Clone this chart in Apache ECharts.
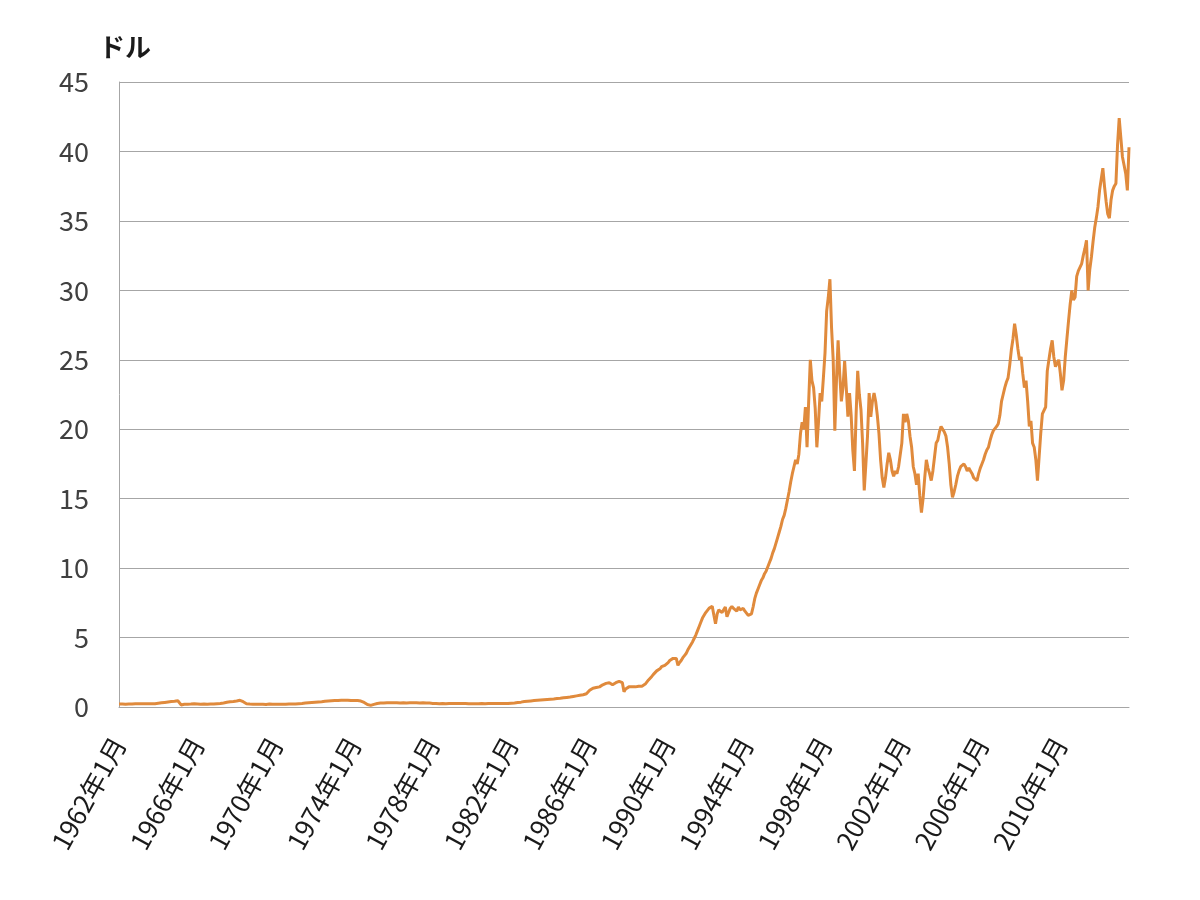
<!DOCTYPE html>
<html>
<head>
<meta charset="utf-8">
<script src="https://cdn.jsdelivr.net/npm/echarts@6/dist/echarts.min.js"></script>
<style>
html, body { margin: 0; padding: 0; background: #fff; }
#chart { width: 1200px; height: 900px; }
</style>
</head>
<body>
<div id="chart"></div>
<script>
// monthly price, 1962-01 .. 2013-07 (one row = one year)
let prices1962 = [
    0.22,0.23,0.22,0.21,0.20,0.21,0.22,0.22,0.21,0.22,0.23,0.23, // 1962
    0.23,0.24,0.23,0.22,0.23,0.24,0.24,0.23,0.24,0.25,0.24,0.25,
    0.27,0.29,0.30,0.32,0.33,0.35,0.36,0.37,0.39,0.40,0.41,0.43,
    0.45,0.40,0.15,0.18,0.20,0.21,0.20,0.22,0.21,0.22,0.23,0.22, // 1965
    0.21,0.20,0.19,0.20,0.21,0.20,0.19,0.20,0.21,0.22,0.21,0.22,
    0.23,0.24,0.25,0.27,0.29,0.31,0.34,0.36,0.38,0.39,0.40,0.42,
    0.43,0.46,0.48,0.50,0.38,0.27,0.24,0.22,0.21,0.20,0.19,0.20, // 1968
    0.19,0.18,0.20,0.21,0.20,0.19,0.18,0.20,0.21,0.20,0.19,0.20,
    0.19,0.18,0.19,0.20,0.19,0.18,0.19,0.20,0.21,0.20,0.21,0.22, // 1970
    0.21,0.22,0.23,0.24,0.25,0.27,0.28,0.29,0.30,0.31,0.32,0.33,
    0.34,0.35,0.36,0.37,0.38,0.40,0.41,0.42,0.43,0.44,0.45,0.46,
    0.47,0.48,0.47,0.49,0.48,0.47,0.48,0.49,0.48,0.47,0.46,0.47,
    0.46,0.45,0.46,0.44,0.43,0.40,0.33,0.25,0.18,0.13,0.12,0.15, // 1974
    0.19,0.22,0.25,0.27,0.28,0.30,0.29,0.30,0.31,0.30,0.31,0.30,
    0.31,0.30,0.31,0.30,0.29,0.30,0.31,0.30,0.29,0.30,0.30,0.29,
    0.30,0.29,0.30,0.29,0.28,0.29,0.30,0.29,0.28,0.27,0.28,0.27,
    0.26,0.25,0.26,0.25,0.24,0.25,0.26,0.25,0.24,0.25,0.26,0.25,
    0.25,0.24,0.25,0.26,0.25,0.24,0.25,0.26,0.25,0.24,0.23,0.24
];
let prices1980 = [
    0.23,0.24,0.23,0.22,0.23,0.24,0.25,0.24,0.23,0.24,0.25,0.24, // 1980
    0.25,0.24,0.25,0.26,0.25,0.24,0.25,0.26,0.25,0.24,0.25,0.26,
    0.27,0.28,0.29,0.30,0.32,0.33,0.35,0.37,0.39,0.40,0.42,0.43,
    0.44,0.45,0.46,0.47,0.48,0.49,0.50,0.51,0.52,0.53,0.54,0.55,
    0.56,0.57,0.58,0.60,0.61,0.62,0.63,0.64,0.66,0.67,0.69,0.70,
    0.72,0.74,0.76,0.78,0.80,0.82,0.84,0.86,0.88,0.90,0.95,1.05,
    1.20,1.28,1.35,1.45,1.40,1.50,1.45,1.55,1.60,1.65,1.70,1.70, // 1986
    1.75,1.65,1.60,1.70,1.75,1.80,1.85,1.80,1.75,1.10,1.30,1.40,
    1.45,1.40,1.45,1.50,1.45,1.40,1.50,1.45,1.50,1.60,1.65,1.75,
    1.95,2.05,2.20,2.35,2.45,2.60,2.70,2.75,2.90,2.95,3.00,3.10,
    3.20,3.35,3.40,3.50,3.60,3.50,3.00,3.20,3.35,3.55,3.70,3.85, // 1990
    4.10,4.30,4.50,4.70,4.95,5.20,5.50,5.80,6.10,6.40,6.60,6.80,
    6.90,7.10,7.20,7.25,6.60,6.00,6.70,7.00,7.10,6.80,7.00,7.20,
    6.50,6.80,7.10,7.25,7.10,7.00,6.90,7.20,7.00,6.90,7.10,6.90,
    6.80,6.60,6.50,6.70,7.20,7.80,8.20,8.50,8.80,9.10,9.30,9.60, // 1994
    9.80,10.1,10.4,10.7,11.1,11.4,11.8,12.2,12.6,13.0,13.5,13.8
];
let prices1996 = [
    14.3,14.9,15.5,16.2,16.8,17.3,17.8,17.5,18.2,19.7,20.5,20.0, // 1996
    21.6,18.7,22.0,25.0,23.5,23.0,21.5,18.7,20.5,22.6,22.0,23.7,
    25.5,28.5,29.5,30.8,27.3,25.0,19.9,23.5,26.4,24.0,22.0,23.0, // 1998
    24.9,23.0,20.9,22.6,21.0,18.5,17.0,21.0,24.2,22.5,21.4,19.0,
    15.6,17.5,19.5,22.6,20.9,22.0,22.6,22.0,21.0,19.7,17.8,16.5, // 2000
    15.8,16.5,17.5,18.3,17.8,17.0,16.6,17.0,16.8,17.3,17.3,19.0,
    21.1,20.5,21.1,20.6,19.5,18.7,17.3,16.8,16.0,16.8,15.2,14.0,
    15.0,16.5,17.8,17.2,16.8,16.3,17.0,18.0,19.0,19.2,19.8,20.2,
    20.2,19.8,19.5,18.7,17.5,16.0,15.1,15.5,16.0,16.6,17.0,17.3, // 2004
    17.2,17.5,17.3,17.0,17.2,17.0,16.8,16.5,16.4,16.3,16.8,17.2,
    17.5,17.8,18.2,18.5,18.7,19.2,19.6,19.9,20.0,20.2,20.4,21.0,
    22.0,22.5,23.0,23.4,23.7,24.6,25.7,26.5,27.6,26.8,25.8,25.0,
    25.2,24.0,23.0,23.5,22.0,20.2,20.6,19.0,18.7,17.8,16.3,18.0, // 2008
    19.7,21.1,21.0,21.6,24.2,25.0,25.8,26.4,25.2,24.5,24.5,25.0,
    24.0,22.8,23.5,25.2,26.5,27.8,29.0,30.0,29.3,29.5,31.0,31.4, // 2010
    31.5,31.9,32.5,33.0,33.6,30.0,31.5,32.4,33.5,34.5,35.2,36.0,
    37.2,38.0,38.8,37.5,36.4,35.5,35.2,36.5,37.2,37.5,37.7,40.5,
    42.4,41.0,39.6,39.0,38.4,37.2,40.3 // 2013
];
let prices = prices1962.concat(prices1980, prices1996);

let startYear = 1962;
let months = prices.map((v, i) => (startYear + Math.floor(i / 12)) + '年' + (i % 12 + 1) + '月');

let yTicks = { min: 0, max: 45, interval: 5 };

let myChart = echarts.init(document.getElementById('chart'));
let font = '"Noto Sans CJK JP", "Noto Sans", sans-serif';
let option = {
    backgroundColor: '#fff',
    animation: false,
    grid: {
        left: 119,
        right: 71,
        top: 82,
        bottom: 193
    },
    xAxis: {
        type: 'category',
        data: months,
        boundaryGap: false,
        axisLine: { lineStyle: { color: '#a6a6a6', width: 1 } },
        axisTick: { show: false },
        axisLabel: {
            interval: 47,
            rotate: 61,
            margin: 32,
            fontSize: 26,
            color: '#1a1a1a',
            fontFamily: font
        },
        splitLine: { show: false }
    },
    yAxis: {
        type: 'value',
        min: yTicks.min,
        max: yTicks.max,
        interval: yTicks.interval,
        name: 'ドル',
        nameLocation: 'end',
        nameGap: 22,
        nameTextStyle: {
            fontSize: 26,
            fontWeight: 'bold',
            color: '#1a1a1a',
            fontFamily: font,
            align: 'left',
            padding: [0, 0, 0, -20]
        },
        axisLine: { show: true, lineStyle: { color: '#a6a6a6', width: 1 } },
        axisTick: { show: false },
        axisLabel: {
            margin: 30,
            fontSize: 27,
            color: '#404040',
            fontFamily: font
        },
        splitLine: { lineStyle: { color: '#a6a6a6', width: 1 } }
    },
    series: [{
        type: 'line',
        data: prices,
        showSymbol: false,
        smooth: false,
        lineStyle: { color: '#e08a3c', width: 3 },
        itemStyle: { color: '#e08a3c' }
    }]
};
myChart.setOption(option);
</script>
</body>
</html>
